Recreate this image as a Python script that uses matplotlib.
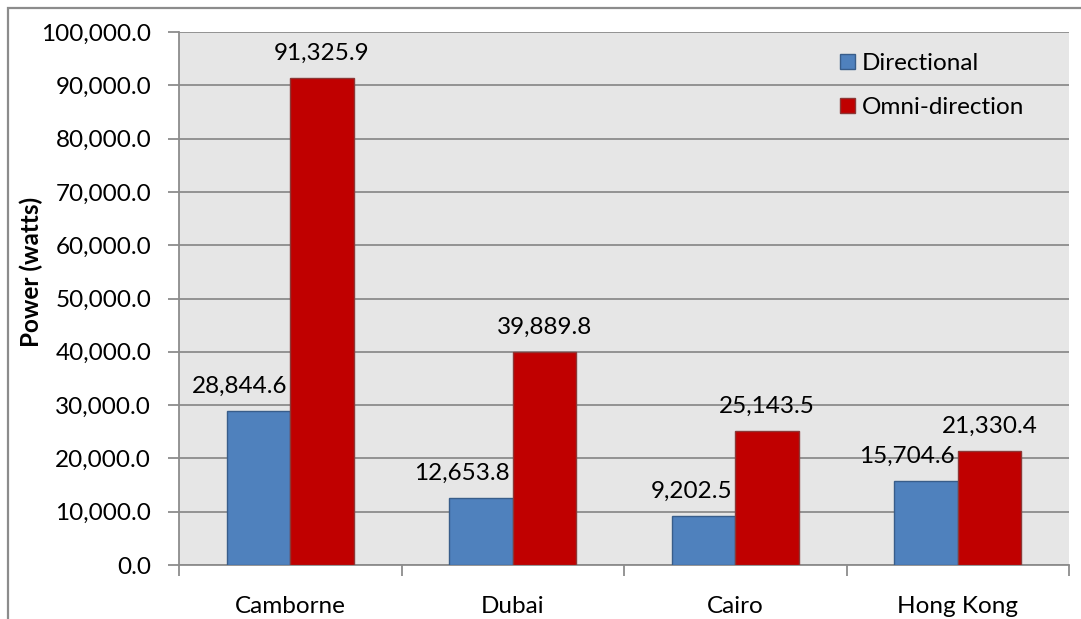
import matplotlib
matplotlib.use("Agg")
import matplotlib.pyplot as plt
from matplotlib.patches import Rectangle
import numpy as np

plt.rcParams['font.family'] = ['Lato', 'DejaVu Sans']

locations = ["Camborne", "Dubai", "Cairo", "Hong Kong"]
directional = [28844.6, 12653.8, 9202.5, 15704.6]
omni = [91325.9, 39889.8, 25143.5, 21330.4]
series_names = ["Directional", "Omni-direction"]
y_ticks = [0, 10000, 20000, 30000, 40000, 50000, 60000, 70000, 80000, 90000, 100000]

W, H = 1081, 619
FS = 17.5
fig = plt.figure(figsize=(W / 100, H / 100), dpi=100)
fig.patch.set_facecolor("white")

# chart outer frame
fig.patches.append(Rectangle((8 / W, -0.1), 1.2, (1 - 8 / H) + 0.1,
                             transform=fig.transFigure, fill=False,
                             edgecolor="#8c8c8c", linewidth=1.6))

ax = fig.add_axes([179 / W, 1 - 565 / H, (1069 - 179) / W, (565 - 32) / H])
ax.set_facecolor("#e6e6e6")

x = np.arange(len(locations))
bw = 1 / 3.5
b1 = ax.bar(x - bw / 2, directional, bw, color="#4f81bd", edgecolor="#385d8a",
            linewidth=1.0, label=series_names[0], zorder=3)
b2 = ax.bar(x + bw / 2, omni, bw, color="#c00000", edgecolor="#8c3836",
            linewidth=1.0, label=series_names[1], zorder=3)

# directional labels sit flush against the right side of their bar,
# omni-direction labels are centred over theirs
for rect, v in zip(b1, directional):
    ax.annotate(f"{v:,.1f}", (rect.get_x() + rect.get_width(), v),
                xytext=(-2, 13), textcoords="offset points",
                ha="right", va="baseline", fontsize=FS, color="black",
                zorder=4)
for rect, v in zip(b2, omni):
    ax.annotate(f"{v:,.1f}", (rect.get_x() + rect.get_width() / 2, v),
                xytext=(0, 13), textcoords="offset points",
                ha="center", va="baseline", fontsize=FS, color="black",
                zorder=4)

ax.set_xlim(-0.5, len(locations) - 0.5)
ax.set_ylim(0, 100000)
ax.set_yticks(y_ticks)
ax.set_yticklabels([f"{v:,.1f}" for v in y_ticks], fontsize=FS)
ax.yaxis.grid(True, color="#8c8c8c", linewidth=1.3, zorder=0)
ax.set_axisbelow(True)

ax.set_xticks(x)
ax.set_xticklabels(locations, fontsize=FS)
ax.tick_params(axis="x", length=0, pad=22)
ax.set_xticks(np.arange(-0.5, len(locations)), minor=True)
ax.tick_params(axis="x", which="minor", length=8, width=1.3, color="#8c8c8c",
               direction="out")
ax.tick_params(axis="y", length=8, width=1.3, color="#8c8c8c", pad=12)

for side in ("top", "right"):
    ax.spines[side].set_visible(False)
for side in ("left", "bottom"):
    ax.spines[side].set_color("#8c8c8c")
    ax.spines[side].set_linewidth(1.3)

ax.set_ylabel("Power (watts)", fontsize=FS, fontweight="bold")
ax.yaxis.set_label_coords(-0.153, 0.55)

ax.legend(loc="upper left", bbox_to_anchor=(0.7185, 1.002), frameon=False,
          fontsize=FS, handlelength=0.6, handleheight=0.6,
          handletextpad=0.3, labelspacing=0.95)

fig.savefig("out.png", dpi=100)
